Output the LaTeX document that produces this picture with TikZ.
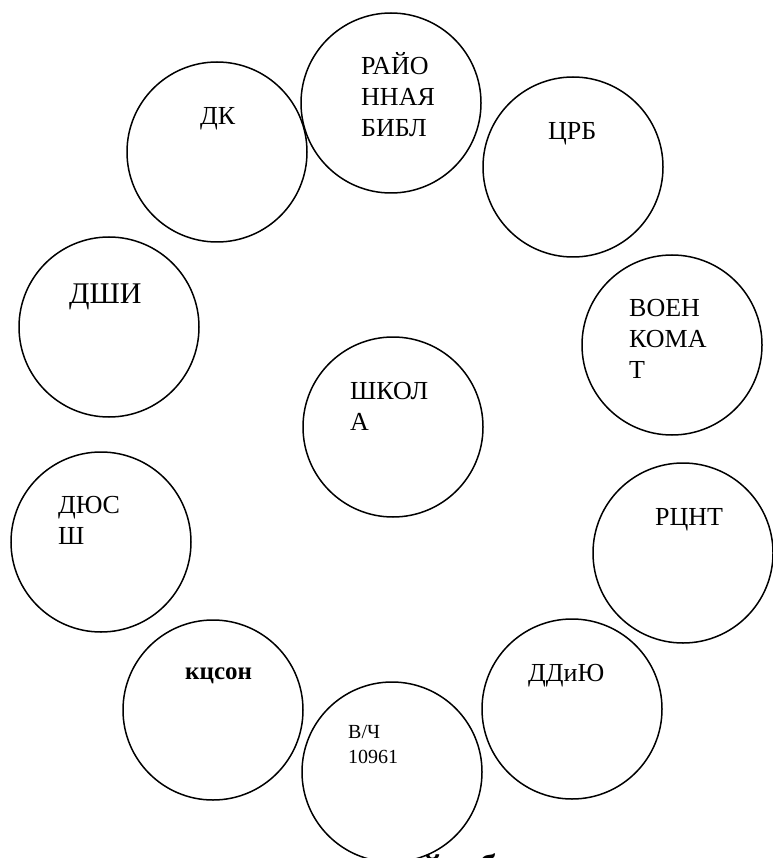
\documentclass[tikz,border=0pt]{standalone}
\usepackage{fontspec}
\setmainfont{Liberation Serif}
\newcommand{\mlines}[1]{\begin{tabular}[t]{@{}l@{}}#1\end{tabular}}
\tikzset{
  ring/.style={circle, draw=black, line width=1.5pt, fill=white, minimum size=180pt, inner sep=0pt},
  lbl/.style={anchor=base west, inner sep=0pt, font=\fontsize{26}{31}\selectfont},
  bigl/.style={anchor=base west, inner sep=0pt, font=\fontsize{30}{36}\selectfont},
  smalll/.style={anchor=base west, inner sep=0pt, font=\fontsize{20}{25}\selectfont},
  boldl/.style={anchor=base west, inner sep=0pt, font=\fontsize{25}{30}\selectfont\bfseries},
  frag/.style={anchor=base west, inner sep=0pt, font=\fontsize{36}{42}\selectfont\bfseries}
}
\begin{document}
\begin{tikzpicture}[x=1pt,y=-1pt]
\useasboundingbox (0,0) rectangle (772,858);
% partially hidden bold caption
\node[frag] (cap) at (422,879) {й\hspace{36pt}б};
% circles
\node[ring] (bibl) at (391,103) {};
\node[ring] (dk) at (217,152) {};
\node[ring] (crb) at (573,167) {};
\node[ring] (dshi) at (109,327) {};
\node[ring] (voen) at (672,345) {};
\node[ring] (shk) at (393,427) {};
\node[ring] (dyush) at (101,542) {};
\node[ring] (rcnt) at (683,553) {};
\node[ring] (kcson) at (213,710) {};
\node[ring] (ddiu) at (572,709) {};
\node[ring] (vch) at (392,772) {};
% labels
\node[lbl] (tbibl) at (361,75) {\mlines{РАЙО\\ННАЯ\\БИБЛ}};
\node[lbl] (tdk) at (200,125) {ДК};
\node[lbl] (tcrb) at (548,140) {ЦРБ};
\node[bigl] (tdshi) at (69,303) {ДШИ};
\node[lbl] (tvoen) at (629,316) {\mlines{ВОЕН\\КОМА\\Т}};
\node[lbl] (tshk) at (350,399) {\mlines{ШКОЛ\\А}};
\node[lbl] (tdyush) at (58,513) {\mlines{ДЮС\\Ш}};
\node[lbl] (trcnt) at (655,525) {РЦНТ};
\node[boldl] (tkcson) at (185,679) {кцсон};
\node[lbl] (tddiu) at (528,681) {ДДиЮ};
\node[smalll] (tvch) at (348,738) {\mlines{В/Ч\\10961}};
\end{tikzpicture}
\end{document}
